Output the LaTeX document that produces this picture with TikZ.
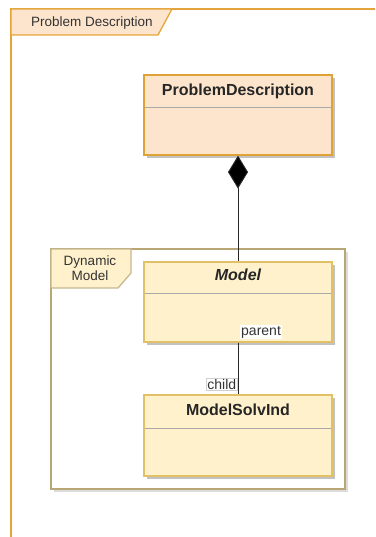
\documentclass[tikz,border=0pt]{standalone}
\usepackage{fontspec}
\setmainfont{Liberation Sans}
\usetikzlibrary{arrows.meta}
\definecolor{frameorange}{HTML}{E5A43A}
\definecolor{peach}{HTML}{FDE5CD}
\definecolor{peachborder}{HTML}{DFA236}
\definecolor{cream}{HTML}{FFF1CC}
\definecolor{creamborder}{HTML}{E2C066}
\definecolor{tanline}{HTML}{B8A775}
\definecolor{shadowgray}{HTML}{C2C2C2}
\definecolor{lightshadow}{HTML}{DCDCDC}
\definecolor{sepgray}{HTML}{A8A8A8}
\definecolor{labelborder}{HTML}{D0D0D0}
\begin{document}
\begin{tikzpicture}[x=1pt,y=-1pt,
  classbox/.style={draw, line width=1.2pt, minimum width=188pt, minimum height=80pt, inner sep=0pt},
  pdbox/.style={classbox, fill=peach, draw=peachborder},
  crbox/.style={classbox, fill=cream, draw=creamborder},
  boxshadow/.style={fill=shadowgray},
  sepline/.style={draw=sepgray, line width=0.9pt},
  titletext/.style={font=\fontsize{16}{18}\selectfont\bfseries, text=black!85, inner sep=0pt, anchor=base},
  plaintext/.style={font=\fontsize{13.5}{15}\selectfont, text=black!80, inner sep=0pt},
  rolelabel/.style={font=\fontsize{14}{16}\selectfont, text=black!80, fill=white, inner sep=1pt},
  link/.style={draw=black!85, line width=1pt}]
\useasboundingbox (0,0) rectangle (375,537);

% outer package frame with its name tab
\draw[frameorange, line width=1.3pt] (375,9) -- (11,9) -- (11,537);
\draw[frameorange, fill=peach, line width=1.3pt] (11,9) -- (172,9) -- (158,35) -- (11,35) -- cycle;
\node[plaintext, anchor=base west] (pkgname) at (31,26.5) {Problem Description};

% inner frame "Dynamic Model"
\fill[lightshadow] (54,252) rectangle (348,492);
\draw[tanline, fill=white, line width=2pt] (51,249) rectangle (345,489);
\draw[tanline!80, fill=cream, line width=1.3pt] (51,249) -- (131,249) -- (131,273) -- (118,288) -- (51,288) -- cycle;
\node[plaintext, align=center, font=\fontsize{13.5}{14.7}\selectfont] (dynname) at (90,268) {Dynamic\\Model};

% class ProblemDescription
\fill[boxshadow] (147,78) rectangle (335,158);
\node[pdbox] (pd) at (238,115) {};
\draw[sepline] (144.6,107) -- (331.4,107);
\node[titletext] (pdtitle) at (238,95.7) {ProblemDescription};

% class Model
\fill[boxshadow] (147,265) rectangle (335,345);
\node[crbox] (model) at (238,302) {};
\draw[sepline] (144.6,293) -- (331.4,293);
\node[titletext, font=\fontsize{16}{18}\selectfont\bfseries\itshape] (modeltitle) at (238,280.7) {Model};

% class ModelSolvInd
\fill[boxshadow] (147,398) rectangle (335,479);
\node[crbox, minimum height=81pt] (msi) at (238,435.5) {};
\draw[sepline] (144.6,428) -- (331.4,428);
\node[titletext] (msititle) at (238,415) {ModelSolvInd};

% composition and parent/child association
\draw[link, {Diamond[length=33pt, width=20pt, fill=black]}-] (pd.south) -- (model.north);
\draw[link] (model.south) -- (msi.north);
\node[rolelabel, anchor=base west] (parentlbl) at (240,335.5) {parent};
\node[rolelabel, draw=labelborder, line width=0.6pt, anchor=base east] (childlbl) at (237.5,389) {child};
\draw[link] (model.south) -- (msi.north);
\end{tikzpicture}
\end{document}
